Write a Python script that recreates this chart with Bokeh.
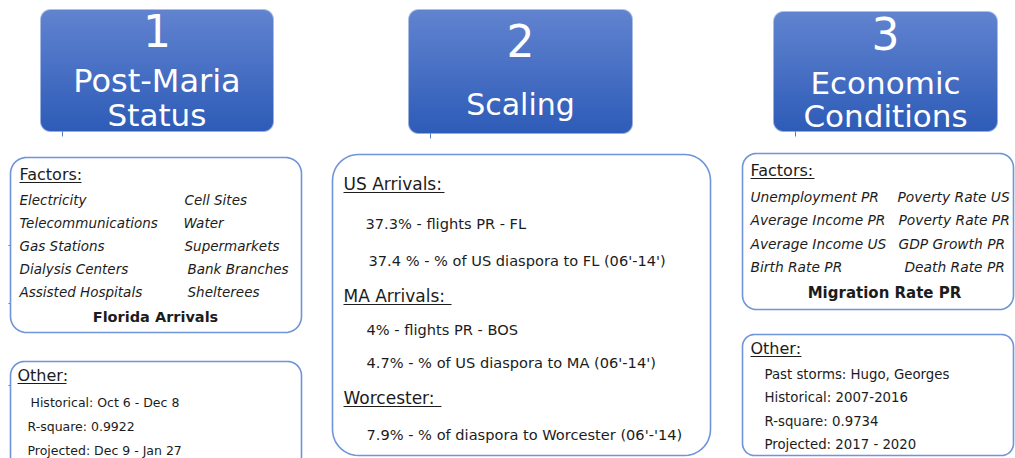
import numpy as np
from bokeh.plotting import figure
from bokeh.models import Range1d
from bokeh.core.properties import value
from bokeh.embed import file_html
from bokeh.resources import INLINE

REF_H = 458
FONT = "DejaVu Sans"
TXT = "#1c1c1c"
BORDER = "#6f94d9"

# ---------------- content ----------------
header_lines = [["1", "Post-Maria", "Status"], ["2", "Scaling"], ["3", "Economic", "Conditions"]]

left_factors_col1 = ["Electricity", "Telecommunications", "Gas Stations", "Dialysis Centers", "Assisted Hospitals"]
left_factors_col2 = ["Cell Sites", "Water", "Supermarkets", "Bank Branches", "Shelterees"]
left_target = "Florida Arrivals"
left_other = ["Historical: Oct 6 - Dec 8", "R-square: 0.9922", "Projected: Dec 9 - Jan 27"]

mid_heads = ["US Arrivals:", "MA Arrivals:", "Worcester:"]
mid_items = ["37.3% - flights PR - FL", "37.4 % - % of US diaspora to FL (06'-14')",
             "4% - flights PR - BOS", "4.7% - % of US diaspora to MA (06'-14')",
             "7.9% - % of diaspora to Worcester (06'-'14)"]

right_factors_col1 = ["Unemployment PR", "Average Income PR", "Average Income US", "Birth Rate PR"]
right_factors_col2 = ["Poverty Rate US", "Poverty Rate PR", "GDP Growth PR", "Death Rate PR"]
right_target = "Migration Rate PR"
right_other = ["Past storms: Hugo, Georges", "Historical: 2007-2016", "R-square: 0.9734", "Projected: 2017 - 2020"]

# ---------------- layout (reference pixel coords, y downward) ----------------
header_boxes = [(40, 9, 273, 131), (408, 9, 632, 133), (773, 11, 997, 131)]
header_line_y = [[30, 80, 114], [40, 104], [33, 82, 115]]
header_line_size = [["44px", "32px", "31px"], ["44px", "30px"], ["44px", "31px", "31px"]]

outline_boxes = [  # x0, y0, x1, y1, radius
    (10, 157, 301, 332, 16),
    (10, 361, 301, 470, 14),
    (332, 154, 710, 455, 26),
    (742, 153, 1013, 309, 14),
    (742, 334, 1013, 455, 12),
]

W, H = 1015, 458


def Y(ry):
    return REF_H - ry


def rounded_poly(x0, y0, x1, y1, r, n=12):
    xs, ys = [], []
    corners = [(x1 - r, y0 + r, -np.pi / 2, 0), (x1 - r, y1 - r, 0, np.pi / 2),
               (x0 + r, y1 - r, np.pi / 2, np.pi), (x0 + r, y0 + r, np.pi, 1.5 * np.pi)]
    for cx, cy, a0, a1 in corners:
        t = np.linspace(a0, a1, n)
        xs.extend(cx + r * np.cos(t))
        ys.extend([Y(v) for v in (cy + r * np.sin(t))])
    return xs, ys


p = figure(width=W, height=H, x_range=Range1d(0, W), y_range=Range1d(Y(H), Y(0)),
           output_backend="svg", toolbar_location=None, min_border=0,
           x_axis_type=None, y_axis_type=None)
p.grid.visible = False
p.outline_line_color = None
p.background_fill_color = "white"
p.border_fill_color = "white"

# small connector stubs
p.segment(x0=[62, 430, 795, 8, 8, 8], y0=[Y(131), Y(133), Y(131), Y(245), Y(303), Y(385)],
          x1=[62, 430, 795, 12, 12, 12], y1=[Y(136), Y(138), Y(136), Y(245), Y(303), Y(385)],
          line_color="#5a7bc4", line_width=1)

# gradient header boxes
top_c = np.array([98, 132, 208], float)
bot_c = np.array([46, 92, 184], float)
for (x0, y0, x1, y1) in header_boxes:
    w, h = x1 - x0, y1 - y0
    r = 10.0
    arr = np.zeros((h, w, 4), dtype=np.uint8)
    rows = np.arange(h)[:, None]
    cols = np.arange(w)[None, :]
    frac = (rows + 0.5) / h  # 0 bottom -> 1 top
    col = bot_c[None, None, :] + (top_c - bot_c)[None, None, :] * frac[..., None]
    arr[..., :3] = np.broadcast_to(col, (h, 1, 3)).astype(np.uint8)
    px = cols + 0.5
    py = rows + 0.5
    cx = np.clip(px, r, w - r)
    cy = np.clip(py, r, h - r)
    d = np.hypot(px - cx, py - cy)
    arr[..., 3] = (np.clip(r - d + 0.5, 0, 1) * 255).astype(np.uint8)
    img = arr.view(np.uint32).reshape(h, w)
    p.image_rgba(image=[img], x=x0, y=Y(y1), dw=w, dh=h)

for (x0, y0, x1, y1), lines, ys, sizes in zip(header_boxes, header_lines, header_line_y, header_line_size):
    cxm = (x0 + x1) / 2
    for t, yy, s in zip(lines, ys, sizes):
        p.text(x=[cxm], y=[Y(yy)], text=[t], text_font=value(FONT), text_font_size=s,
               text_color="white", text_align="center", text_baseline="middle")

# outline boxes
for (x0, y0, x1, y1, r) in outline_boxes:
    xs, ys = rounded_poly(x0, y0, x1, y1, r)
    p.patch(xs, ys, fill_color="white", line_color=BORDER, line_width=1.6)


def texts(xs, ys, labels, size, style="normal", align="left"):
    p.text(x=xs, y=[Y(v) for v in ys], text=labels, text_font=value(FONT), text_font_size=size,
           text_font_style=style, text_color=TXT, text_align=align, text_baseline="middle")


def underlined(x, y, label, size, width, off):
    texts([x], [y], [label], size)
    p.segment(x0=[x], y0=[Y(y + off)], x1=[x + width], y1=[Y(y + off)], line_color=TXT, line_width=1)


# left factors box
underlined(19, 174, "Factors:", "16px", 62, 8)
texts([19] * 5, [199, 222, 245, 268, 291], left_factors_col1, "13.5px", "italic")
texts([184, 183, 184, 187, 187], [199, 222, 245, 268, 291], left_factors_col2, "13.5px", "italic")
texts([155], [316], [left_target], "14.5px", "bold", "center")

# left other box
underlined(17, 375, "Other:", "16px", 49, 8)
texts([30, 27, 27], [402, 426, 450], left_other, "12.5px")

# middle box
underlined(343, 183, mid_heads[0], "17px", 101, 9)
underlined(343, 295, mid_heads[1], "17px", 108, 9)
underlined(343, 397, mid_heads[2], "17px", 98, 9)
texts([365, 368, 366, 366, 366], [223, 260, 329, 362, 434], mid_items[:4] + [mid_items[4]], "14.6px")

# right factors box
underlined(750, 170, "Factors:", "16px", 64, 8)
texts([750] * 4, [196, 219, 243, 266], right_factors_col1, "13.8px", "italic")
texts([897, 898, 898, 904], [196, 219, 243, 266], right_factors_col2, "13.8px", "italic")
texts([884], [292], [right_target], "15px", "bold", "center")

# right other box
underlined(750, 348, "Other:", "16px", 51, 8)
texts([764] * 4, [374, 397, 421, 444], right_other, "13.3px")

open("out.html", "w").write(file_html(p, INLINE))
